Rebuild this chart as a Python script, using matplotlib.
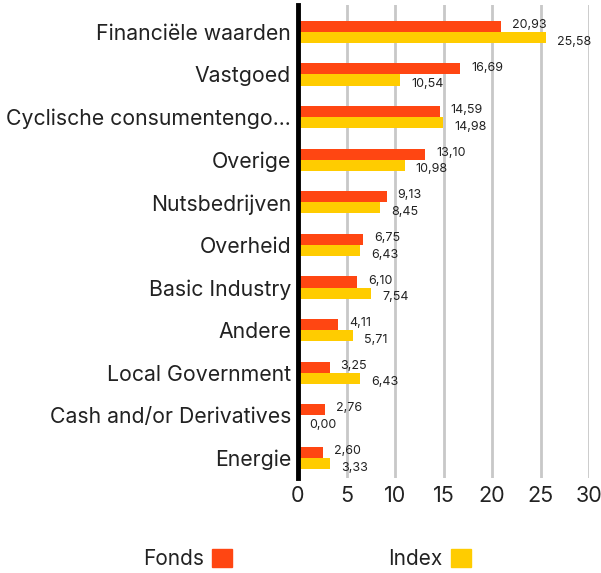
import matplotlib
matplotlib.use("Agg")
import matplotlib.pyplot as plt
from matplotlib.patches import Patch
import numpy as np

categories = ["Financiële waarden", "Vastgoed", "Cyclische consumentengo...", "Overige",
              "Nutsbedrijven", "Overheid", "Basic Industry", "Andere",
              "Local Government", "Cash and/or Derivatives", "Energie"]
fonds = [20.93, 16.69, 14.59, 13.10, 9.13, 6.75, 6.10, 4.11, 3.25, 2.76, 2.60]
index = [25.58, 10.54, 14.98, 10.98, 8.45, 6.43, 7.54, 5.71, 6.43, 0.00, 3.33]
xticks = [0, 5, 10, 15, 20, 25, 30]

FONDS_C = "#FF4612"
INDEX_C = "#FFCC00"
FONT = "Inter"

fig = plt.figure(figsize=(6.01, 5.73), dpi=100)
ax = fig.add_axes([298/601, 1-478/573, (589-298)/601, (478-5)/573])

y = np.arange(len(categories))
h = 0.26
ax.barh(y - h/2, fonds, height=h, color=FONDS_C, zorder=3)
ax.barh(y + h/2, index, height=h, color=INDEX_C, zorder=3)

for yi, v in zip(y, fonds):
    ax.annotate(f"{v:.2f}".replace(".", ","), (v, yi - h/2), xytext=(8, 1),
                textcoords="offset points", va="center", ha="left",
                fontsize=9, family=FONT, color="#222222")
for yi, v in zip(y, index):
    ax.annotate(f"{v:.2f}".replace(".", ","), (v, yi + h/2), xytext=(8, -3),
                textcoords="offset points", va="center", ha="left",
                fontsize=9, family=FONT, color="#222222")

ax.set_xlim(0, 30)
ax.set_ylim(len(categories) - 1 + 0.47, -0.63)
ax.set_yticks(y)
ax.set_yticklabels(categories, fontsize=15.3, family=FONT, color="#222222")
ax.set_xticks(xticks)
ax.set_xticklabels([str(t) for t in xticks], fontsize=15.5, family=FONT, color="#222222")
ax.tick_params(axis="both", length=0)
ax.tick_params(axis="y", pad=5)
ax.tick_params(axis="x", pad=6)
ax.xaxis.grid(True, color="#c8c8c8", linewidth=2, zorder=0)
ax.set_axisbelow(True)
for s in ["top", "right", "bottom"]:
    ax.spines[s].set_visible(False)
ax.spines["left"].set_linewidth(3.5)
ax.spines["left"].set_color("black")
ax.spines["left"].set_zorder(4)

handles = [Patch(color=FONDS_C, label="Fonds"), Patch(color=INDEX_C, label="Index")]
leg = fig.legend(handles=handles, loc="center", bbox_to_anchor=(307/601, 1-559/573),
                 ncol=2, frameon=False, markerfirst=False, handlelength=0.95,
                 handleheight=0.95, columnspacing=7.5, handletextpad=0.4,
                 prop={"family": FONT, "size": 15})
for t in leg.get_texts():
    t.set_color("#222222")

fig.savefig("out.png", dpi=100)
